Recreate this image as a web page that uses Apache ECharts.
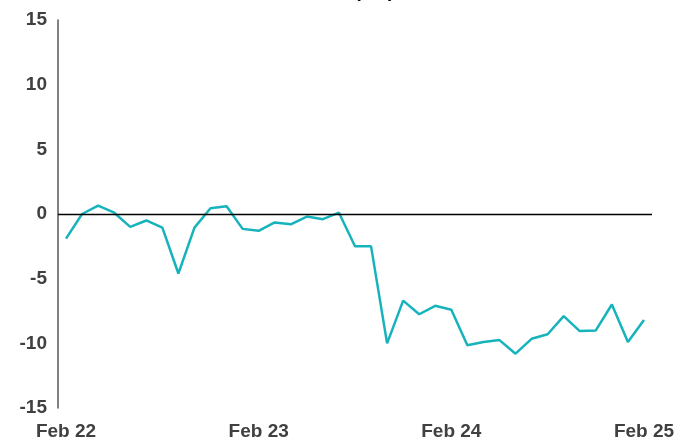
<!DOCTYPE html>
<html>
<head>
<meta charset="utf-8">
<script src="https://cdn.jsdelivr.net/npm/echarts@6/dist/echarts.min.js"></script>
<style>
  html, body { margin: 0; padding: 0; background: #fff; }
  #chart { width: 679px; height: 444px; }
</style>
</head>
<body>
<div id="chart"></div>
<script>
// monthly points, Feb 22 .. Feb 25
const months = [
  'Feb 22','Mar 22','Apr 22','May 22','Jun 22','Jul 22','Aug 22','Sep 22','Oct 22','Nov 22','Dec 22','Jan 23',
  'Feb 23','Mar 23','Apr 23','May 23','Jun 23','Jul 23','Aug 23','Sep 23','Oct 23','Nov 23','Dec 23','Jan 24',
  'Feb 24','Mar 24','Apr 24','May 24','Jun 24','Jul 24','Aug 24','Sep 24','Oct 24','Nov 24','Dec 24','Jan 25',
  'Feb 25'
]
const values = [
  -1.9, 0.0, 0.65, 0.1, -1.0, -0.5, -1.05, -4.6, -1.05, 0.45, 0.6, -1.15,
  -1.3, -0.65, -0.8, -0.2, -0.4, 0.1, -2.5, -2.5, -10.0, -6.7, -7.75, -7.1,
  -7.4, -10.15, -9.9, -9.75, -10.8, -9.65, -9.3, -7.9, -9.05, -9.0, -7.0, -9.9,
  -8.2
]
const shownLabels = ['Feb 22', 'Feb 23', 'Feb 24', 'Feb 25']

let chart = echarts.init(document.getElementById('chart'))
chart.setOption({
  animation: false,
  title: {
    text: '(%)',
    left: 346,
    top: -33,
    textStyle: { fontFamily: 'Liberation Sans', fontSize: 30, fontWeight: 'normal', color: '#000' }
  },
  grid: { left: 58, right: 27, top: 20, bottom: 36 },
  xAxis: {
    type: 'category',
    boundaryGap: true,
    data: months,
    axisLine: { show: false, onZero: false },
    axisTick: { show: false },
    splitLine: { show: false },
    axisLabel: {
      interval: 0,
      formatter: function (v) { return shownLabels.indexOf(v) >= 0 ? v : '' },
      margin: 14,
      color: '#404040',
      fontFamily: 'Liberation Sans',
      fontWeight: 'bold',
      fontSize: 19
    }
  },
  yAxis: {
    type: 'value',
    min: -15,
    max: 15,
    interval: 5,
    axisLine: { show: true, lineStyle: { color: '#595959', width: 1.5 } },
    axisTick: { show: false },
    splitLine: { show: false },
    axisLabel: {
      margin: 11,
      color: '#404040',
      fontFamily: 'Liberation Sans',
      fontWeight: 'bold',
      fontSize: 19
    }
  },
  series: [
    {
      type: 'line',
      data: values,
      symbol: 'none',
      lineStyle: { color: '#17b3bc', width: 2.5 },
      markLine: {
        silent: true,
        symbol: 'none',
        label: { show: false },
        lineStyle: { color: '#000', width: 1.3, type: 'solid' },
        data: [{ yAxis: 0 }]
      }
    }
  ]
})
</script>
</body>
</html>
